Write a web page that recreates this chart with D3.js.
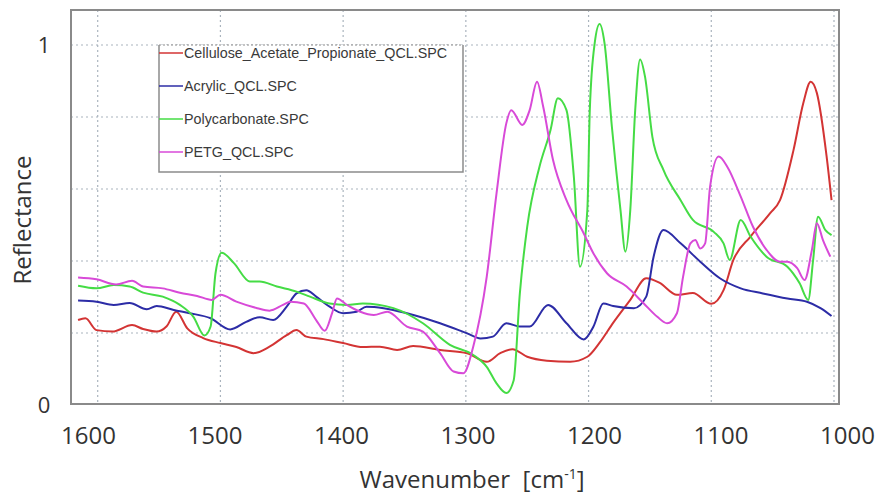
<!DOCTYPE html>
<html>
<head>
<meta charset="utf-8">
<script src="https://cdn.jsdelivr.net/npm/d3@7"></script>
<style>
body{margin:0;background:#fff;}
</style>
</head>
<body>
<script>
// [wavenumber, reflectance]
var celluloseData=[[1616,0.236],[1610,0.241],[1601,0.208],[1588,0.204],[1572,0.222],[1563,0.211],[1552,0.204],[1544,0.218],[1536,0.259],[1527,0.213],[1514,0.186],[1500,0.172],[1487,0.161],[1473,0.144],[1460,0.162],[1446,0.194],[1438,0.208],[1430,0.190],[1416,0.183],[1400,0.172],[1384,0.161],[1370,0.162],[1356,0.153],[1343,0.164],[1321,0.153],[1299,0.144],[1283,0.120],[1272,0.144],[1262,0.155],[1250,0.134],[1234,0.123],[1215,0.120],[1201,0.134],[1191,0.173],[1180,0.228],[1166,0.292],[1153,0.352],[1142,0.339],[1128,0.306],[1115,0.311],[1100,0.281],[1090,0.319],[1082,0.403],[1068,0.468],[1052,0.533],[1044,0.569],[1033,0.708],[1025,0.839],[1019,0.898],[1014,0.867],[1006,0.690],[1002,0.569]]
var acrylicData=[[1616,0.290],[1601,0.287],[1587,0.278],[1574,0.283],[1560,0.266],[1552,0.275],[1538,0.264],[1525,0.255],[1508,0.241],[1492,0.210],[1479,0.231],[1468,0.244],[1457,0.236],[1446,0.273],[1438,0.310],[1430,0.319],[1422,0.301],[1411,0.273],[1400,0.255],[1389,0.259],[1381,0.273],[1367,0.269],[1348,0.255],[1321,0.227],[1299,0.199],[1288,0.185],[1278,0.190],[1267,0.227],[1256,0.218],[1248,0.218],[1233,0.278],[1218,0.227],[1204,0.182],[1196,0.218],[1188,0.282],[1180,0.275],[1163,0.269],[1153,0.301],[1147,0.412],[1139,0.486],[1125,0.449],[1109,0.398],[1093,0.352],[1076,0.324],[1058,0.310],[1038,0.296],[1022,0.287],[1011,0.269],[1002,0.247]]
var polycarbonateData=[[1616,0.331],[1601,0.324],[1587,0.333],[1574,0.329],[1563,0.312],[1547,0.301],[1533,0.278],[1522,0.245],[1513,0.193],[1508,0.218],[1504,0.366],[1499,0.423],[1489,0.394],[1476,0.343],[1468,0.343],[1454,0.329],[1438,0.315],[1427,0.301],[1411,0.282],[1397,0.278],[1384,0.282],[1359,0.269],[1335,0.227],[1313,0.167],[1294,0.139],[1283,0.106],[1275,0.060],[1267,0.033],[1261,0.069],[1256,0.310],[1250,0.495],[1240,0.662],[1231,0.764],[1225,0.852],[1218,0.819],[1212,0.634],[1207,0.384],[1201,0.542],[1199,0.819],[1195,1.005],[1191,1.058],[1187,1.005],[1181,0.773],[1174,0.542],[1170,0.426],[1166,0.542],[1162,0.819],[1158,0.960],[1154,0.912],[1148,0.745],[1139,0.653],[1125,0.569],[1115,0.514],[1098,0.481],[1090,0.449],[1085,0.403],[1076,0.514],[1068,0.468],[1055,0.412],[1038,0.384],[1028,0.338],[1021,0.292],[1017,0.403],[1013,0.523],[1007,0.486],[1002,0.472]]
var petgData=[[1616,0.354],[1601,0.349],[1585,0.335],[1572,0.345],[1563,0.329],[1547,0.324],[1533,0.312],[1519,0.303],[1507,0.292],[1500,0.306],[1487,0.287],[1470,0.269],[1460,0.262],[1449,0.278],[1443,0.287],[1432,0.282],[1422,0.236],[1415,0.206],[1409,0.255],[1405,0.296],[1397,0.278],[1386,0.259],[1375,0.250],[1364,0.259],[1348,0.218],[1335,0.204],[1321,0.144],[1310,0.093],[1302,0.088],[1294,0.162],[1283,0.356],[1275,0.588],[1267,0.783],[1263,0.819],[1254,0.778],[1248,0.819],[1242,0.898],[1237,0.829],[1229,0.681],[1218,0.569],[1204,0.477],[1196,0.421],[1185,0.366],[1169,0.329],[1155,0.282],[1144,0.245],[1136,0.227],[1128,0.255],[1123,0.356],[1117,0.449],[1113,0.458],[1109,0.435],[1105,0.449],[1101,0.606],[1094,0.690],[1087,0.662],[1076,0.579],[1066,0.495],[1055,0.431],[1044,0.398],[1038,0.398],[1030,0.380],[1024,0.347],[1018,0.431],[1014,0.505],[1009,0.458],[1003,0.412]]

var seriesNames=["Cellulose_Acetate_Propionate_QCL.SPC","Acrylic_QCL.SPC","Polycarbonate.SPC","PETG_QCL.SPC"]
var seriesColors=["#d33434","#2c2ca6","#45dc45","#d84ad8"]
var xTicks=[1600,1500,1400,1300,1200,1100,1000]
var yGrid=[0.2,0.4,0.6,0.8,1]
var yLabels=[0,1]

var screen={width:881,height:494}
var frame={left:71,right:839,top:10,bottom:404}

var svg=d3.select("body").append("svg")
          .attr("width",screen.width)
          .attr("height",screen.height)
          .style("font-family","'Open Sans', sans-serif")

var xScale=d3.scaleLinear().domain([1600,1000]).range([97.7,834])
// tick labels sit a little wider than the grid in the original
var xLabelScale=d3.scaleLinear().domain([1600,1000]).range([88,847])
var yScale=d3.scaleLinear().domain([0,1]).range([405,45])

var gridColor="#aab4be"
var gridLand=svg.append("g").classed("grid",true)
gridLand.selectAll("line.vgrid")
        .data(xTicks)
        .enter()
        .append("line")
        .classed("vgrid",true)
        .attr("x1",function(d){return xScale(d)})
        .attr("x2",function(d){return xScale(d)})
        .attr("y1",frame.top)
        .attr("y2",frame.bottom)
        .attr("stroke",gridColor)
        .attr("stroke-width",1.2)
        .attr("stroke-dasharray","2,3")
gridLand.selectAll("line.hgrid")
        .data(yGrid)
        .enter()
        .append("line")
        .classed("hgrid",true)
        .attr("x1",frame.left)
        .attr("x2",frame.right)
        .attr("y1",function(d){return yScale(d)})
        .attr("y2",function(d){return yScale(d)})
        .attr("stroke",gridColor)
        .attr("stroke-width",1.2)
        .attr("stroke-dasharray","2,3")

// legend box (behind the curves)
var legend=svg.append("g").classed("legend",true)
var legBox={x:159,y:45,w:304,h:127}
legend.append("rect")
      .attr("x",legBox.x)
      .attr("y",legBox.y)
      .attr("width",legBox.w)
      .attr("height",legBox.h)
      .attr("fill","#fff")
legend.append("path")
      .attr("d","M"+legBox.x+","+legBox.y+"V"+(legBox.y+legBox.h)+"H"+(legBox.x+legBox.w)+"V"+legBox.y)
      .attr("fill","none")
      .attr("stroke","#8c8c8c")
      .attr("stroke-width",1.5)
legend.append("line")
      .attr("x1",legBox.x).attr("x2",legBox.x+legBox.w)
      .attr("y1",legBox.y).attr("y2",legBox.y)
      .attr("stroke","#8c8c8c")
      .attr("stroke-width",1.2)
      .attr("stroke-dasharray","2,2")
var rowY=[53,86,119,152]
legend.selectAll("line.key")
      .data(seriesColors)
      .enter()
      .append("line")
      .classed("key",true)
      .attr("x1",legBox.x)
      .attr("x2",legBox.x+24)
      .attr("y1",function(d,i){return rowY[i]})
      .attr("y2",function(d,i){return rowY[i]})
      .attr("stroke",function(d){return d})
      .attr("stroke-width",1.5)
legend.selectAll("text")
      .data(seriesNames)
      .enter()
      .append("text")
      .attr("x",legBox.x+25)
      .attr("y",function(d,i){return rowY[i]+5})
      .text(function(d){return d})
      .attr("font-family","'Liberation Sans', Arial, sans-serif")
      .attr("font-size","14.3px")
      .attr("fill","#3a3a3a")

// curves
var line=d3.line()
           .x(function(d){return xScale(d[0])})
           .y(function(d){return yScale(d[1])})
           .curve(d3.curveMonotoneX)
var allSeries=[celluloseData,acrylicData,polycarbonateData,petgData]
var plotLand=svg.append("g").classed("plot",true)
plotLand.selectAll("path")
        .data(allSeries)
        .enter()
        .append("path")
        .attr("d",function(d){return line(d)})
        .attr("fill","none")
        .attr("stroke",function(d,i){return seriesColors[i]})
        .attr("stroke-width",2)
        .attr("stroke-linejoin","round")

// frame
svg.append("rect")
   .attr("x",frame.left)
   .attr("y",frame.top)
   .attr("width",frame.right-frame.left)
   .attr("height",frame.bottom-frame.top)
   .attr("fill","none")
   .attr("stroke","#8a8a8a")
   .attr("stroke-width",2)

// axes labels
var xAxis=d3.axisBottom(xLabelScale).tickValues(xTicks).tickSize(0).tickPadding(0).tickFormat(d3.format("d"))
var xAxisG=svg.append("g")
              .attr("transform","translate(0,427)")
              .call(xAxis)
xAxisG.select(".domain").remove()
xAxisG.selectAll("text")
      .attr("font-family","'Open Sans', sans-serif")
      .attr("font-size","24px")
      .attr("fill","#333")
      .attr("dy","0.71em")

svg.selectAll("text.ylab")
   .data(yLabels)
   .enter()
   .append("text")
   .classed("ylab",true)
   .attr("x",44)
   .attr("y",function(d){return yScale(d)})
   .attr("dy","0.36em")
   .attr("text-anchor","middle")
   .attr("font-size","22px")
   .attr("fill","#333")
   .text(function(d){return d})

svg.append("text")
   .attr("transform","translate(31,220) rotate(-90)")
   .attr("text-anchor","middle")
   .attr("font-size","24px")
   .attr("fill","#333")
   .text("Reflectance")

var xTitle=svg.append("text")
   .attr("x",472)
   .attr("y",488)
   .attr("text-anchor","middle")
   .attr("font-size","24px")
   .attr("fill","#333")
   .style("white-space","pre")
xTitle.append("tspan").text("Wavenumber  [cm")
xTitle.append("tspan").attr("dy","-9").attr("font-size","14px").text("-1")
xTitle.append("tspan").attr("dy","9").text("]")
</script>
</body>
</html>
